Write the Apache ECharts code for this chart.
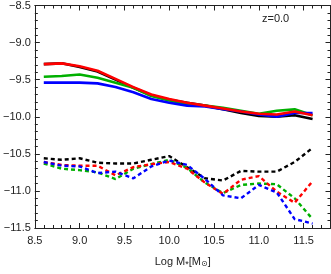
<!DOCTYPE html>
<html><head><meta charset="utf-8">
<script src="https://cdn.jsdelivr.net/npm/echarts@6/dist/echarts.min.js"></script>
<style>html,body{margin:0;padding:0;background:#fff}#c{width:331px;height:274px}</style>
</head><body><div id="c"></div>
<script>
const logMass = [8.6,8.8,9.0,9.2,9.4,9.6,9.8,10.0,10.2,10.4,10.6,10.8,11.0,11.2,11.4,11.6];
const blackSolid = [-9.29,-9.28,-9.33,-9.39,-9.50,-9.61,-9.71,-9.77,-9.81,-9.85,-9.90,-9.95,-9.99,-10.00,-9.98,-10.03];
const greenSolid = [-9.46,-9.45,-9.43,-9.475,-9.54,-9.61,-9.72,-9.78,-9.83,-9.85,-9.88,-9.92,-9.96,-9.92,-9.90,-9.98];
const blueSolid  = [-9.54,-9.54,-9.54,-9.55,-9.60,-9.67,-9.76,-9.81,-9.85,-9.86,-9.90,-9.93,-9.97,-10.00,-9.95,-9.95];
const redSolid   = [-9.29,-9.28,-9.32,-9.38,-9.49,-9.60,-9.70,-9.76,-9.81,-9.85,-9.89,-9.93,-9.96,-9.97,-9.93,-9.98];
const blackDash = [-10.56,-10.58,-10.56,-10.62,-10.63,-10.63,-10.58,-10.53,-10.68,-10.83,-10.86,-10.73,-10.74,-10.74,-10.61,-10.42];
const redDash   = [-10.61,-10.65,-10.66,-10.66,-10.79,-10.68,-10.64,-10.61,-10.70,-10.89,-11.04,-10.85,-10.80,-11.01,-11.16,-10.87];
const greenDash = [-10.63,-10.70,-10.72,-10.75,-10.84,-10.70,-10.64,-10.58,-10.69,-10.89,-11.03,-10.92,-10.90,-10.91,-11.10,-11.38];
const blueDash  = [-10.61,-10.66,-10.67,-10.76,-10.74,-10.83,-10.67,-10.59,-10.65,-10.84,-11.06,-11.10,-10.92,-11.02,-11.38,-11.44];
const xTicks = [8.5, 11.8, 0.5];
const yTicks = [-11.5, -8.5, 0.5];
const label = 'z=0.0';

const FONT = 'Liberation Sans, Arial, sans-serif';
const AX = '#222';
function pairs(ys){ return logMass.map((x,i)=>[x,ys[i]]); }
function line(ys,color,dash){
  return {type:'line', data:pairs(ys), symbol:'none', smooth:false, animation:false,
    lineStyle:{color:color, width: dash?2.4:2.6, type: dash?[4,3]:'solid'}};
}
const axCommon = {
  type:'value', axisLine:{show:true, onZero:false, lineStyle:{color:AX,width:1}},
  axisTick:{show:true, inside:true, length:5, lineStyle:{color:AX}},
  minorTick:{show:true, splitNumber:5, length:3, lineStyle:{color:AX}},
  splitLine:{show:false}
};
const chart = echarts.init(document.getElementById('c'));
chart.setOption({
  animation:false,
  grid:{left:33.5, right:0.5, top:1, bottom:33, containLabel:false},
  title:{text:label, left:257, top:8, textStyle:{fontFamily:FONT, fontSize:11, fontWeight:'normal', color:AX}},
  xAxis:[
    Object.assign({}, axCommon, {position:'bottom', min:xTicks[0], max:xTicks[1], interval:xTicks[2],
      axisLabel:{fontFamily:FONT, fontSize:11, color:AX, margin:7, formatter:v=>v.toFixed(1), showMaxLabel:false},
      name:'Log M{s|*}[M{o|⊙}]', nameLocation:'middle', nameGap:26,
      nameTextStyle:{fontFamily:FONT, fontSize:11, color:AX, rich:{
        s:{fontFamily:FONT,fontSize:9,color:AX,padding:[6,0,0,0]},
        o:{fontFamily:'DejaVu Sans',fontSize:8,color:AX,padding:[4,0,0,0]}}}}),
    Object.assign({}, axCommon, {position:'top', min:xTicks[0], max:xTicks[1], interval:xTicks[2], axisLabel:{show:false}})
  ],
  yAxis:[
    Object.assign({}, axCommon, {position:'left', min:yTicks[0], max:yTicks[1], interval:yTicks[2],
      axisLabel:{fontFamily:FONT, fontSize:11, color:AX, margin:4, formatter:v=>v.toFixed(1).replace('-','\u2212')}}),
    Object.assign({}, axCommon, {position:'right', min:yTicks[0], max:yTicks[1], interval:yTicks[2], axisLabel:{show:false}})
  ],
  series:[
    line(blackSolid,'#000000',false),
    line(greenSolid,'#00b000',false),
    line(blueSolid,'#0000ff',false),
    line(redSolid,'#ff0000',false),
    line(blackDash,'#000000',true),
    line(greenDash,'#00b000',true),
    line(redDash,'#ff0000',true),
    line(blueDash,'#0000ff',true)
  ]
});
</script></body></html>
